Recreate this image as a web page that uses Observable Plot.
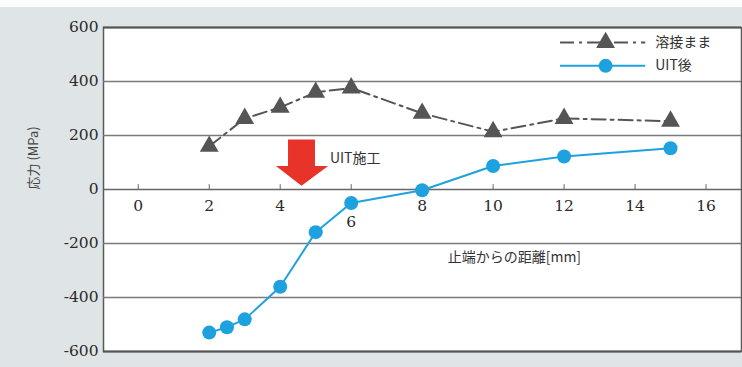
<!DOCTYPE html>
<html><head><meta charset="utf-8">
<script src="https://cdn.jsdelivr.net/npm/d3@7"></script>
<script src="https://cdn.jsdelivr.net/npm/@observablehq/plot@0.6"></script>
<style>
html,body{margin:0;padding:0;background:#fff;}
#chart svg{display:block;}
#chart svg .num text{font-family:"DejaVu Serif",serif !important;}
</style></head><body><div id="chart"></div>
<script>
// Series: as-welded (溶接まま)
const weldX = [2, 3, 4, 5, 6, 8, 10, 12, 15];
const weldY = [160, 263, 304, 360, 376, 282, 214, 263, 253];
// Series: after UIT (UIT後)
const uitX = [2, 2.5, 3, 4, 5, 6, 8, 10, 12, 15];
const uitY = [-530, -510, -481, -360, -158, -50, -3, 87, 122, 153];
// Ticks
const xTicks = [0, 2, 4, 6, 8, 10, 12, 14, 16];
const yTicks = [-600, -400, -200, 0, 200, 400, 600];
const gridY = [-400, -200, 200, 400];
// Labels
const seriesNames = ["溶接まま", "UIT後"];
const yLabel = "応力 (MPa)";
const xLabel = "止端からの距離[mm]";
const arrowLabel = "UIT施工";

const weld = weldX.map((x, i) => ({x, y: weldY[i]}));
const uit = uitX.map((x, i) => ({x, y: uitY[i]}));

// annotation arrow (data coords)
const arrowPts = [[4.22,185],[4.98,185],[4.98,87],[5.35,87],[4.6,14],[3.88,87],[4.22,87]];
const legendRows = [{y: 544, name: seriesNames[0]}, {y: 458, name: seriesNames[1]}];
const legendX = [11.9, 13.17, 14.3, 14.57];

const gray = "#555";
const blue = "#1ea2df";
const serif = "DejaVu Serif";
const jp = "Noto Sans CJK JP";

const chart = Plot.plot({
  width: 742, height: 367,
  marginLeft: 103, marginRight: 1, marginTop: 27, marginBottom: 16,
  x: {domain: [-0.98, 17], axis: null},
  y: {domain: [-600, 600]},
  style: {background: "linear-gradient(to bottom,#fbfcfc 0,#fbfcfc 7px,#dfe4e6 7px,#dfe4e6 100%)"},
  marks: [
    Plot.frame({fill: "white", stroke: "#5a5a5a", strokeWidth: 1.5}),
    Plot.ruleY(gridY, {stroke: "#7a7a7a", strokeWidth: 1.3}),
    Plot.ruleY([600, -600], {stroke: "#555", strokeWidth: 2}),
    Plot.ruleY([0], {stroke: "#666", strokeWidth: 1.4}),
    Plot.ruleX(xTicks, {x: d => d, y1: 0, y2: 18, stroke: "#666", strokeWidth: 1}),
    Plot.text(xTicks.filter(d => d !== 6), {x: d => d, y: 0, text: d => String(d), dy: 17, className: "num", fontFamily: serif, fontSize: 15.5, fill: "#2a2a2a"}),
    Plot.text(xTicks.filter(d => d === 6), {x: d => d, y: 0, text: d => String(d), dy: 33, className: "num", fontFamily: serif, fontSize: 15.5, fill: "#2a2a2a"}),
    Plot.axisY(yTicks, {tickSize: 0, tickPadding: 5, tickFormat: d => String(d), className: "num", fontFamily: serif, fontSize: 15.5, fill: "#2a2a2a", label: null}),
    Plot.text([yLabel], {frameAnchor: "left", dx: -70, rotate: -90, text: d => d, fontFamily: jp, fontSize: 13, fill: "#444"}),
    Plot.text([xLabel], {x: 10.6, y: -253, text: d => d, fontFamily: jp, fontSize: 14, fill: "#333"}),
    // arrow
    Plot.line(arrowPts, {x: d => d[0], y: d => d[1], fill: "#e8332a", stroke: "none", curve: "linear-closed"}),
    Plot.text([arrowLabel], {x: 5.4, y: 115, text: d => d, textAnchor: "start", fontFamily: jp, fontSize: 14, fill: "#333"}),
    // series
    Plot.line(weld, {x: "x", y: "y", stroke: gray, strokeWidth: 2, strokeDasharray: "14,5,3,5"}),
    Plot.dot(weld, {x: "x", y: "y", symbol: "triangle", r: 7, fill: gray, stroke: "none"}),
    Plot.line(uit, {x: "x", y: "y", stroke: blue, strokeWidth: 2}),
    Plot.dot(uit, {x: "x", y: "y", r: 7, fill: blue, stroke: "none"}),
    // legend
    Plot.ruleY(legendRows.slice(0,1), {y: "y", x1: legendX[0], x2: legendX[2], stroke: gray, strokeWidth: 2, strokeDasharray: "14,5,3,5"}),
    Plot.dot(legendRows.slice(0,1), {x: legendX[1], y: "y", symbol: "triangle", r: 7, fill: gray}),
    Plot.ruleY(legendRows.slice(1), {y: "y", x1: legendX[0], x2: legendX[2], stroke: blue, strokeWidth: 2}),
    Plot.dot(legendRows.slice(1), {x: legendX[1], y: "y", r: 7, fill: blue}),
    Plot.text(legendRows, {x: legendX[3], y: "y", text: "name", textAnchor: "start", fontFamily: jp, fontSize: 14, fill: "#333"})
  ]
});
document.getElementById("chart").appendChild(chart);
</script></body></html>
